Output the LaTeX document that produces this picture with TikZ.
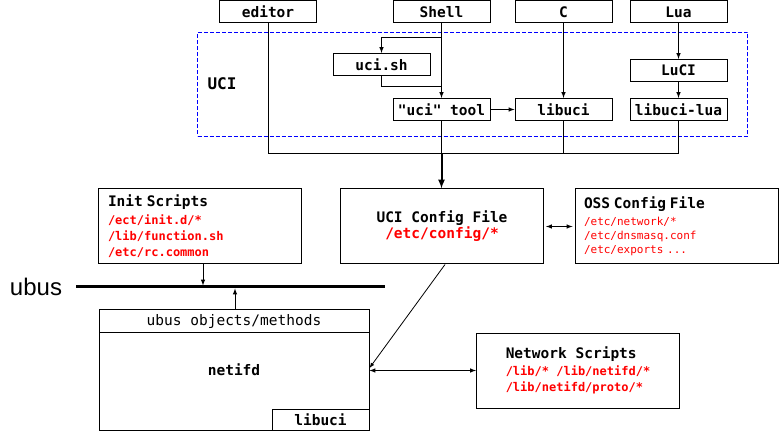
\documentclass[tikz,border=0pt]{standalone}
\usepackage{fontspec}
\setmonofont{DejaVu Sans Mono}
\newfontfamily\ubusfont{Liberation Sans}
\usetikzlibrary{positioning}

\newcommand{\titlett}{\ttfamily\bfseries\fontsize{14.5}{18}\selectfont}
\newcommand{\pathtt}{\ttfamily\bfseries\fontsize{12}{16}\selectfont\color{red}}
\newcommand{\osstt}{\ttfamily\mdseries\fontsize{11}{14}\selectfont\color{red}}

\begin{document}
\begin{tikzpicture}[x=1pt,y=-1pt,>=latex,line width=1pt,
  small box/.style={draw,rectangle,minimum width=97pt,minimum height=22pt,inner sep=0pt,font=\titlett},
  file box/.style={draw,rectangle,minimum width=203pt,minimum height=75pt,inner sep=0pt},
  uci frame/.style={draw=blue,line width=1.1pt,dash pattern=on 4pt off 2pt,minimum width=550pt,minimum height=104pt,inner sep=0pt}]
    \useasboundingbox (0,0) rectangle (781,435);

    % UCI layer
    \node[uci frame] (uciframe) at (472.5,84.5) {};
    \node[font=\ttfamily\bfseries\fontsize{16}{18}\selectfont] (ucilabel) at (222,84) {UCI};
    \node[small box] (editor) at (268,11.5) {editor};
    \node[small box] (shell) at (441.5,12) {Shell};
    \node[small box] (c) [right=24pt of shell] {C};
    \node[small box] (lua) [right=17pt of c] {Lua};
    \node[small box] (ucish) at (381.5,64.5) {uci.sh};
    \node[small box] (ucitool) at (441.5,109.5) {"uci" tool};
    \node[small box] (libuci) [right=24pt of ucitool] {libuci};
    \node[small box] (libucilua) [right=17pt of libuci] {libuci-lua};
    \node[small box] (luci) [above=16pt of libucilua] {LuCI};

    \coordinate (shsplit) at (441.5,38);
    \coordinate (shjoin) at (441.5,87);
    \coordinate (join) at (441.5,154);

    \path[->]
        (shell) edge (ucitool)
        (ucitool) edge (libuci)
        (c) edge (libuci)
        (lua) edge (luci)
        (luci) edge (libucilua)
    ;
    \draw[->] (shsplit) -| (ucish);
    \draw (ucish) |- (shjoin);
    \draw (editor) |- (join);
    \draw (ucitool) -- (join);
    \draw (libuci) |- (join);
    \draw (libucilua) |- (join);

    % config files
    \node[file box] (uciconfig) at (442,226.5) [align=center] {\titlett UCI Config File\\ \titlett\color{red}/etc/config/*};
    \node[file box] (init) at (200,226.5) [text width=184pt,align=left,font=\ttfamily\fontsize{12}{16}\selectfont] {\titlett Init Scripts\\[2pt] \pathtt /ect/init.d/*\\ \pathtt /lib/function.sh\\ \pathtt /etc/rc.common};
    \node[file box] (oss) at (676.5,226.5) [text width=185pt,align=left,font=\ttfamily\fontsize{11}{14}\selectfont] {\titlett OSS Config File\\[3pt] \osstt /etc/network/*\\ \osstt /etc/dnsmasq.conf\\ \osstt /etc/exports ...};
    \node[file box] (network) at (578,370.5) [align=left,font=\ttfamily\fontsize{12}{16.5}\selectfont] {\titlett Network Scripts\\ \pathtt /lib/* /lib/netifd/*\\ \pathtt /lib/netifd/proto/*};

    \draw[->,line width=2pt] (join) -- (join |- uciconfig.north);
    \draw[<->,shorten >=2pt,shorten <=2pt] (uciconfig.east) -- (oss.west);

    % ubus and netifd
    \node[font=\ubusfont\fontsize{24}{24}\selectfont] (ubus) at (36,287) {ubus};
    \coordinate (busL) at (76,287);
    \coordinate (busR) at (385,287);
    \coordinate (busin) at (203,287);
    \coordinate (busout) at (235,287);
    \draw[line width=3pt] (busL) -- (busR);

    \node[draw,minimum width=270pt,minimum height=120pt,inner sep=0pt,font=\titlett] (netifd) at (234,370) {netifd};
    \node[draw,minimum width=270pt,minimum height=22pt,inner sep=0pt,anchor=north,font=\ttfamily\fontsize{14.5}{18}\selectfont] (ubusobj) at (netifd.north) {ubus objects/methods};
    \node[draw,minimum width=97pt,minimum height=21pt,inner sep=0pt,anchor=south east,font=\titlett] (netlibuci) at (netifd.south east) {libuci};

    \draw[->,shorten >=1.5pt] (init.south -| busin) -- (busin);
    \draw[->,shorten >=1.5pt] (ubusobj.north -| busout) -- (busout);
    \draw[->,line width=0.8pt] ([xshift=3pt]uciconfig.south) -- ([yshift=2pt]netifd.east);
    \draw[<->] (netifd.east |- network.west) -- (network.west);

\end{tikzpicture}
\end{document}
